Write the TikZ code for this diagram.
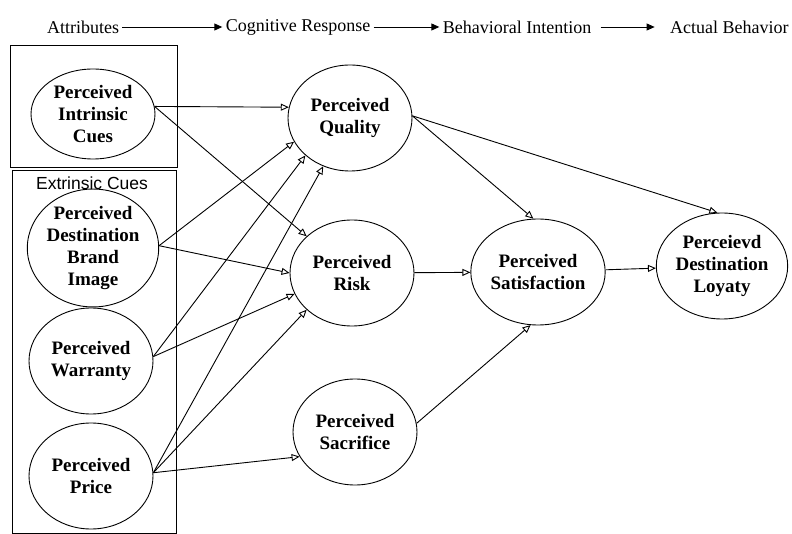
\documentclass[tikz,border=0pt]{standalone}
\usepackage{fontspec}
\setmainfont{Liberation Serif}
\setsansfont{Liberation Sans}
\usetikzlibrary{shapes.geometric,arrows.meta}

\begin{document}
\begin{tikzpicture}[x=1pt, y=-1pt, line width=0.9pt,
                    latent/.style={ellipse,draw,minimum width=124pt,minimum height=106pt,inner sep=0pt,
                                   align=center,font=\bfseries\fontsize{19}{22}\selectfont},
                    head/.style={font=\fontsize{18}{20}\selectfont,inner sep=3pt},
                    link/.style={-{Triangle[open,length=8pt,width=7pt]}}]
\useasboundingbox (0,0) rectangle (792,534);

% header row
\node[head] (attr) at (83,27) {Attributes};
\node[head] (cogn) at (298,27) {Cognitive Response};
\node[head] (beha) at (517,27) {Behavioral Intention};
\node[head, anchor=east] (actu) at (792,27) {Actual Behavior};

\path[-{Triangle[length=8pt,width=7pt]}]
    (attr) edge (cogn)
    (cogn) edge (beha)
    (beha) edge[shorten >=12pt, shorten <=6pt] (actu);

% cue boxes
\draw (10,45) rectangle (177,167);
\draw (12,170) rectangle (176,533);
\node[font=\sffamily\fontsize{17.5}{20}\selectfont] (extr) at (92,183) {Extrinsic Cues};

% constructs
\node[latent, minimum height=90pt] (ic) at (93,114) {Perceived\\Intrinsic\\Cues};
\node[latent, minimum width=128pt] (bi) at (93,248) {Perceived\\Destination\\Brand\\Image};
\node[latent] (wa) at (91,361) {Perceived\\Warranty};
\node[latent] (pr) at (91,476) {Perceived\\Price};

\node[latent] (qu) at (350,118) {Perceived\\Quality};
\node[latent] (ri) at (352,273) {Perceived\\Risk};
\node[latent] (sa) at (355,432) {Perceived\\Sacrifice};

\node[latent] (sf) at (538,272) {Perceived\\Satisfaction};
\node[latent] (lo) at (722,266) {Perceievd\\Destination\\Loyaty};

\path[link]
    (ic.7) edge (qu.170)
    (ic.7) edge (ri.141)
    (bi.2) edge (qu.203)
    (bi.2) edge (ri.180)
    (wa.4) edge (qu.220)
    (wa.4) edge (ri.200)
    (pr.3) edge (qu.241)
    (pr.3) edge (ri.219)
    (pr.3) edge (sa.204)
    (qu.2) edge (sf.95)
    (qu.2) edge (lo.95)
    (ri) edge (sf)
    (sa.8) edge (sf.262)
    (sf) edge (lo);
\end{tikzpicture}
\end{document}
